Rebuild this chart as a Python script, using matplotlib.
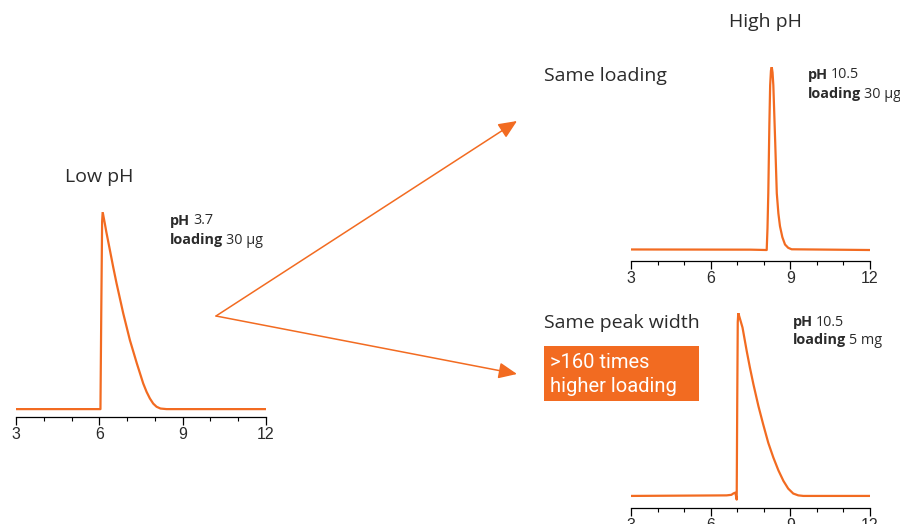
import matplotlib
matplotlib.use("Agg")
import matplotlib.pyplot as plt
from matplotlib.patches import FancyArrowPatch, Rectangle

# retention time (min) / normalised signal
low_x = [3.0, 5.0, 6.04, 6.07, 6.10, 6.12, 6.20, 6.25, 6.38, 6.50, 6.62, 6.86, 7.10, 7.35, 7.58, 7.70,
         7.82, 7.94, 8.06, 8.20, 8.42, 9.5, 12.0]
low_y = [0.0, 0.0, 0.0, 0.5, 0.95, 1.0, 0.94, 0.90, 0.807, 0.72, 0.638, 0.486, 0.350, 0.232, 0.130, 0.088,
         0.054, 0.028, 0.012, 0.003, 0.0, 0.0, 0.0]

same_x = [3.0, 7.5, 8.11, 8.14, 8.17, 8.21, 8.24, 8.27, 8.30, 8.33, 8.36, 8.43, 8.49, 8.55, 8.61, 8.70,
          8.80, 8.92, 9.05, 12.0]
same_y = [0.003, 0.002, 0.0, 0.12, 0.31, 0.68, 0.90, 0.98, 1.0, 0.97, 0.90, 0.59, 0.31, 0.20, 0.13, 0.07,
          0.03, 0.012, 0.004, 0.0]

width_x = [3.0, 6.6, 6.78, 6.86, 6.93, 6.98, 7.00, 7.02, 7.04, 7.10, 7.20, 7.36, 7.48, 7.61, 7.80, 7.98,
           8.17, 8.36, 8.55, 8.74, 8.92, 9.11, 9.30, 9.49, 12.0]
width_y = [0.0, 0.003, 0.006, 0.014, 0.018, -0.02, 0.5, 0.95, 1.0, 0.97, 0.92, 0.79, 0.70, 0.61, 0.49, 0.39,
           0.29, 0.21, 0.14, 0.082, 0.04, 0.013, 0.003, 0.0, 0.0]

tick_major = [3, 6, 9, 12]
tick_labels = ["3", "6", "9", "12"]

orange = "#F26B21"
dark = "#2b2b2b"
W, H = 900, 524

fig = plt.figure(figsize=(9, 5.24), dpi=100)


def px_axes(left, right, bottom, top):
    # axes box given in image pixels (top-left origin)
    return fig.add_axes([left / W, 1 - bottom / H, (right - left) / W, (bottom - top) / H])


def chromatogram(ax, x, y, ymin):
    ax.plot(x, y, color=orange, lw=1.6, solid_joinstyle="round")
    ax.set_xlim(3, 12)
    ax.set_ylim(ymin, 1.0)
    for s in ["left", "right", "top"]:
        ax.spines[s].set_visible(False)
    ax.spines["bottom"].set_linewidth(0.9)
    ax.set_yticks([])
    ax.set_xticks(tick_major)
    ax.set_xticklabels(tick_labels, fontfamily="Liberation Sans", fontsize=11.5, color=dark)
    ax.set_xticks(range(3, 13), minor=True)
    ax.tick_params(axis="x", which="major", direction="out", length=6, width=0.9, pad=1.5)
    ax.tick_params(axis="x", which="minor", direction="out", length=3, width=0.8)
    ax.patch.set_alpha(0)


ax1 = px_axes(16, 266, 417, 212)
chromatogram(ax1, low_x, low_y, -0.04)
ax2 = px_axes(631, 870, 261, 67)
chromatogram(ax2, same_x, same_y, -0.06)
ax3 = px_axes(631, 870, 508, 313)
chromatogram(ax3, width_x, width_y, -0.066)


def ftext(x, y, s, **kw):
    return fig.text(x / W, 1 - y / H, s, **kw)


title_kw = dict(fontfamily="Open Sans", fontsize=14, color=dark, va="center")
ftext(65, 177, "Low pH", ha="left", **title_kw)
ftext(765, 22, "High pH", ha="center", **title_kw)
ftext(544, 76, "Same loading", ha="left", **title_kw)
ftext(544, 323, "Same peak width", ha="left", **title_kw)

fig.canvas.draw()
rend = fig.canvas.get_renderer()


def cond_text(x, y, bold, normal):
    t = ftext(x, y, bold, fontfamily="Open Sans", fontsize=10.4, fontweight="bold",
              color=dark, va="center", ha="left")
    bb = t.get_window_extent(renderer=rend)
    fig.text((bb.x1 + 3) / W, 1 - y / H, normal, fontfamily="Open Sans", fontsize=10.4,
             color=dark, va="center", ha="left")


cond_text(170, 221, "pH", "3.7")
cond_text(170, 240, "loading", "30 µg")
cond_text(808, 75, "pH", "10.5")
cond_text(808, 94, "loading", "30 µg")
cond_text(793, 322, "pH", "10.5")
cond_text(793, 340, "loading", "5 mg")

# highlight box
fig.add_artist(Rectangle((544 / W, 1 - 401 / H), 155 / W, 55 / H,
                         transform=fig.transFigure, color=orange, lw=0))
box_kw = dict(fontfamily="Roboto", fontsize=14.5, color="white", va="center", ha="left")
ftext(550, 363, ">160 times", **box_kw)
ftext(550, 386, "higher loading", **box_kw)

# arrows
for end in [(517, 121), (517, 374)]:
    arr = FancyArrowPatch((216 / W, 1 - 316 / H), (end[0] / W, 1 - end[1] / H),
                          transform=fig.transFigure,
                          arrowstyle="-|>,head_length=0.8,head_width=0.35",
                          mutation_scale=14, color=orange, lw=1.1,
                          shrinkA=0, shrinkB=0)
    fig.add_artist(arr)

fig.savefig("out.png", dpi=100)
